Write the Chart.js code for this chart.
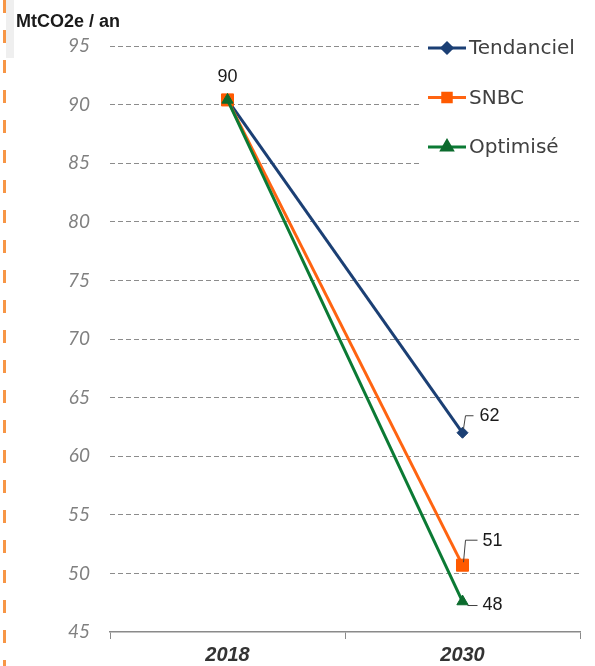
<!DOCTYPE html>
<html><head><meta charset="utf-8">
<script src="https://cdn.jsdelivr.net/npm/chart.js@4.4.1/dist/chart.umd.min.js"></script>
<style>html,body{margin:0;padding:0;background:#fff;}#wrap{width:595px;height:666px;position:relative;}</style>
</head><body><div id="wrap"><canvas id="c" width="595" height="666"></canvas></div>
<script>
// ---- data ----
const categories = ['2018', '2030'];
const seriesNames = ['Tendanciel', 'SNBC', 'Optimisé'];
const tendanciel = [90.4, 62.0];
const snbc = [90.4, 50.7];
const optimise = [90.4, 47.6];
const yTickValues = [45, 50, 55, 60, 65, 70, 75, 80, 85, 90, 95];
const yAxisTitle = 'MtCO2e / an';
// which points carry a value label (per series)
const labelShown = [[false, true], [true, true], [false, true]];

// ---- styles ----
const colors = ['#1b3f74', '#ff6411', '#0b7a34'];
const markerColors = ['#1b3f74', '#ff5a00', '#0b6b2d'];
const pointStyles = ['rectRot', 'rect', 'triangle'];
const pointRadii = [5.5, 8.5, 6.5];
const drawOrder = [2, 1, 0];
// label placement: leader polyline offsets and text offset (px, relative to point)
const labelPlacement = [
  [null, {leader: [[1, -4], [3, -17], [11, -17]], text: [17, -17], align: 'left'}],
  [{leader: null, text: [0, -23], align: 'center'}, {leader: [[1, -3], [3, -25], [15, -25]], text: [20, -24], align: 'left'}],
  [null, {leader: [[5, 4], [15, 4]], text: [20, 4], align: 'left'}]
];

const seriesValues = [tendanciel, snbc, optimise];

const decorPlugin = {
  id: 'decor',
  beforeDraw(chart) {
    const ctx = chart.ctx;
    ctx.save();
    ctx.fillStyle = '#efefef';
    ctx.fillRect(6, 0, 8, 58);
    ctx.strokeStyle = '#f79646';
    ctx.lineWidth = 3;
    ctx.setLineDash([13, 17]);
    ctx.beginPath();
    ctx.moveTo(4.5, 0);
    ctx.lineTo(4.5, 666);
    ctx.stroke();
    ctx.restore();
  }
};

const valueLabelPlugin = {
  id: 'valueLabels',
  afterDatasetsDraw(chart) {
    const ctx = chart.ctx;
    ctx.save();
    ctx.font = '18px "Liberation Sans", Arial, sans-serif';
    ctx.fillStyle = '#1a1a1a';
    ctx.textBaseline = 'middle';
    chart.data.datasets.forEach((ds, i) => {
      const meta = chart.getDatasetMeta(i);
      meta.data.forEach((pt, j) => {
        if (!labelShown[i][j]) return;
        const pl = labelPlacement[i][j];
        const x = pt.x, y = pt.y;
        if (pl.leader) {
          ctx.strokeStyle = '#404040';
          ctx.lineWidth = 1;
          ctx.beginPath();
          pl.leader.forEach((p, k) => {
            if (k === 0) ctx.moveTo(x + p[0], y + p[1]); else ctx.lineTo(x + p[0], y + p[1]);
          });
          ctx.stroke();
        }
        ctx.textAlign = pl.align;
        ctx.fillText(String(Math.round(ds.data[j])), x + pl.text[0], y + pl.text[1]);
      });
    });
    ctx.restore();
  }
};

const legendPlugin = {
  id: 'customLegend',
  afterDraw(chart) {
    const ctx = chart.ctx;
    ctx.save();
    ctx.fillStyle = '#ffffff';
    ctx.fillRect(420, 28, 175, 142);
    chart.data.datasets.forEach((ds, i) => {
      const y = 48 + i * 49.5;
      ctx.strokeStyle = ds.borderColor;
      ctx.lineWidth = 3;
      ctx.setLineDash([]);
      ctx.beginPath();
      ctx.moveTo(428, y);
      ctx.lineTo(466, y);
      ctx.stroke();
      ctx.fillStyle = ds.pointBackgroundColor;
      ctx.strokeStyle = ds.pointBorderColor;
      Chart.helpers.drawPoint(ctx, {pointStyle: ds.pointStyle, radius: [5, 6, 6][i], borderWidth: 1, rotation: 0}, 447, y);
      ctx.fillStyle = '#404040';
      ctx.font = '20px "DejaVu Sans", sans-serif';
      ctx.textAlign = 'left';
      ctx.textBaseline = 'middle';
      ctx.fillText(ds.label, 469, y + 1);
    });
    ctx.restore();
  }
};

const datasets = seriesNames.map((name, i) => ({
  label: name,
  data: seriesValues[i],
  borderColor: colors[i],
  backgroundColor: colors[i],
  borderWidth: 3,
  pointStyle: pointStyles[i],
  pointRadius: pointRadii[i],
  pointHoverRadius: pointRadii[i],
  pointBackgroundColor: markerColors[i],
  pointBorderColor: markerColors[i],
  pointBorderWidth: 1,
  tension: 0,
  order: drawOrder[i],
  clip: false
}));

new Chart(document.getElementById('c'), {
  type: 'line',
  data: { labels: categories, datasets },
  options: {
    responsive: false,
    maintainAspectRatio: false,
    devicePixelRatio: 1,
    animation: false,
    events: [],
    layout: { padding: { left: 16, right: 15, top: 0, bottom: 0 } },
    plugins: {
      legend: { display: false },
      tooltip: { enabled: false },
      title: {
        display: true,
        text: yAxisTitle,
        align: 'start',
        color: '#1a1a1a',
        font: { family: '"Liberation Sans", Arial, sans-serif', weight: 'bold', size: 18, lineHeight: 1.2 },
        padding: { top: 11, bottom: 13.4 }
      }
    },
    scales: {
      x: {
        type: 'category',
        offset: true,
        grid: { display: true, offset: true, drawOnChartArea: false, drawTicks: true, tickLength: 7, color: '#8a8a8a', lineWidth: 1 },
        border: { display: true, color: '#8a8a8a', width: 1.5 },
        ticks: { color: '#333333', padding: 4, font: { family: '"Liberation Sans", Arial, sans-serif', style: 'italic', weight: 'bold', size: 20, lineHeight: 1.2 } },
        afterFit(scale) { scale.height = 34; }
      },
      y: {
        min: yTickValues[0],
        max: yTickValues[yTickValues.length - 1],
        afterBuildTicks(scale) { scale.ticks = yTickValues.map(v => ({ value: v })); },
        grid: {
          drawTicks: false,
          color: ctx => (ctx.tick && ctx.tick.value === yTickValues[0]) ? 'rgba(0,0,0,0)' : '#8c8c8c',
          lineWidth: 1
        },
        border: { display: false, dash: [5, 3] },
        ticks: { color: '#808080', padding: 20, font: { family: 'Lato, sans-serif', style: 'italic', size: 19 } },
        afterFit(scale) { scale.width = 94; }
      }
    }
  },
  plugins: [decorPlugin, valueLabelPlugin, legendPlugin]
});
</script>
</body></html>
